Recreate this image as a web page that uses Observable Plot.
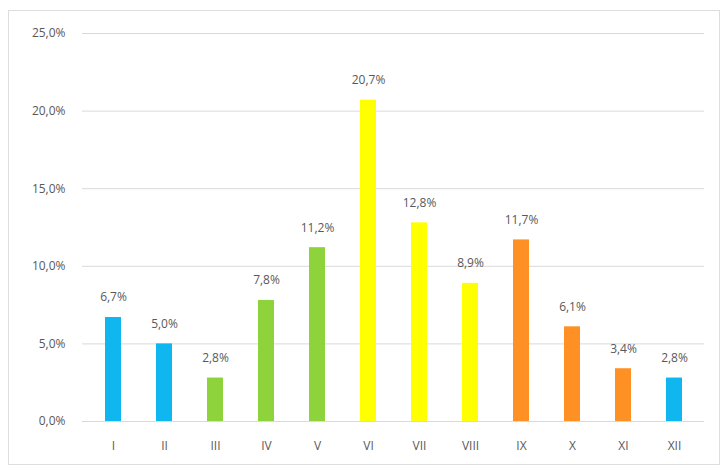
<!DOCTYPE html>
<html>
<head>
<meta charset="utf-8">
<script src="https://cdn.jsdelivr.net/npm/d3@7"></script>
<script src="https://cdn.jsdelivr.net/npm/@observablehq/plot@0.6"></script>
<style>
  html, body { margin: 0; padding: 0; background: #fff; }
  #wrap { position: relative; width: 721px; height: 468px; }
  #frame { position: absolute; left: 8px; top: 10px; width: 712px; height: 455px; border: 1px solid #dedede; box-sizing: border-box; pointer-events: none; }
</style>
</head>
<body>
<div id="wrap"><div id="frame"></div></div>
<script>
const months = ["I","II","III","IV","V","VI","VII","VIII","IX","X","XI","XII"];
const values = [6.7, 5.0, 2.8, 7.8, 11.2, 20.7, 12.8, 8.9, 11.7, 6.1, 3.4, 2.8];
const seasons = ["winter","winter","spring","spring","spring","summer","summer","summer","autumn","autumn","autumn","winter"];
const seasonNames = ["winter","spring","summer","autumn"];
const seasonColors = ["#10B6F0","#8ED33C","#FFFF00","#FF9124"];
const yTicks = [0, 5, 10, 15, 20, 25];

const data = months.map((m, i) => ({month: m, value: values[i], season: seasons[i]}));
const fmt = v => v.toFixed(1).replace(".", ",") + "%";

const chart = Plot.plot({
  width: 721,
  height: 468,
  marginLeft: 82,
  marginRight: 17,
  marginTop: 33,
  marginBottom: 47,
  style: {fontFamily: "Open Sans", fontSize: "12px", color: "#595959", background: "transparent"},
  x: {domain: months, paddingInner: 0.69, paddingOuter: 0.345, label: null, tickSize: 0, tickPadding: 20},
  y: {domain: [0, 25], ticks: yTicks, tickFormat: fmt, label: null, tickSize: 0, tickPadding: 17},
  color: {domain: seasonNames, range: seasonColors},
  marks: [
    Plot.ruleY(yTicks, {stroke: "#d9d9d9", strokeWidth: 1}),
    Plot.barY(data, {x: "month", y: "value", fill: "season"}),
    Plot.text(data, {x: "month", y: "value", text: d => fmt(d.value), dy: -20, fill: "#595959", fontSize: 12})
  ]
});
chart.style.position = "absolute";
chart.style.left = "0px";
chart.style.top = "0px";
document.getElementById("wrap").appendChild(chart);
</script>
</body>
</html>
